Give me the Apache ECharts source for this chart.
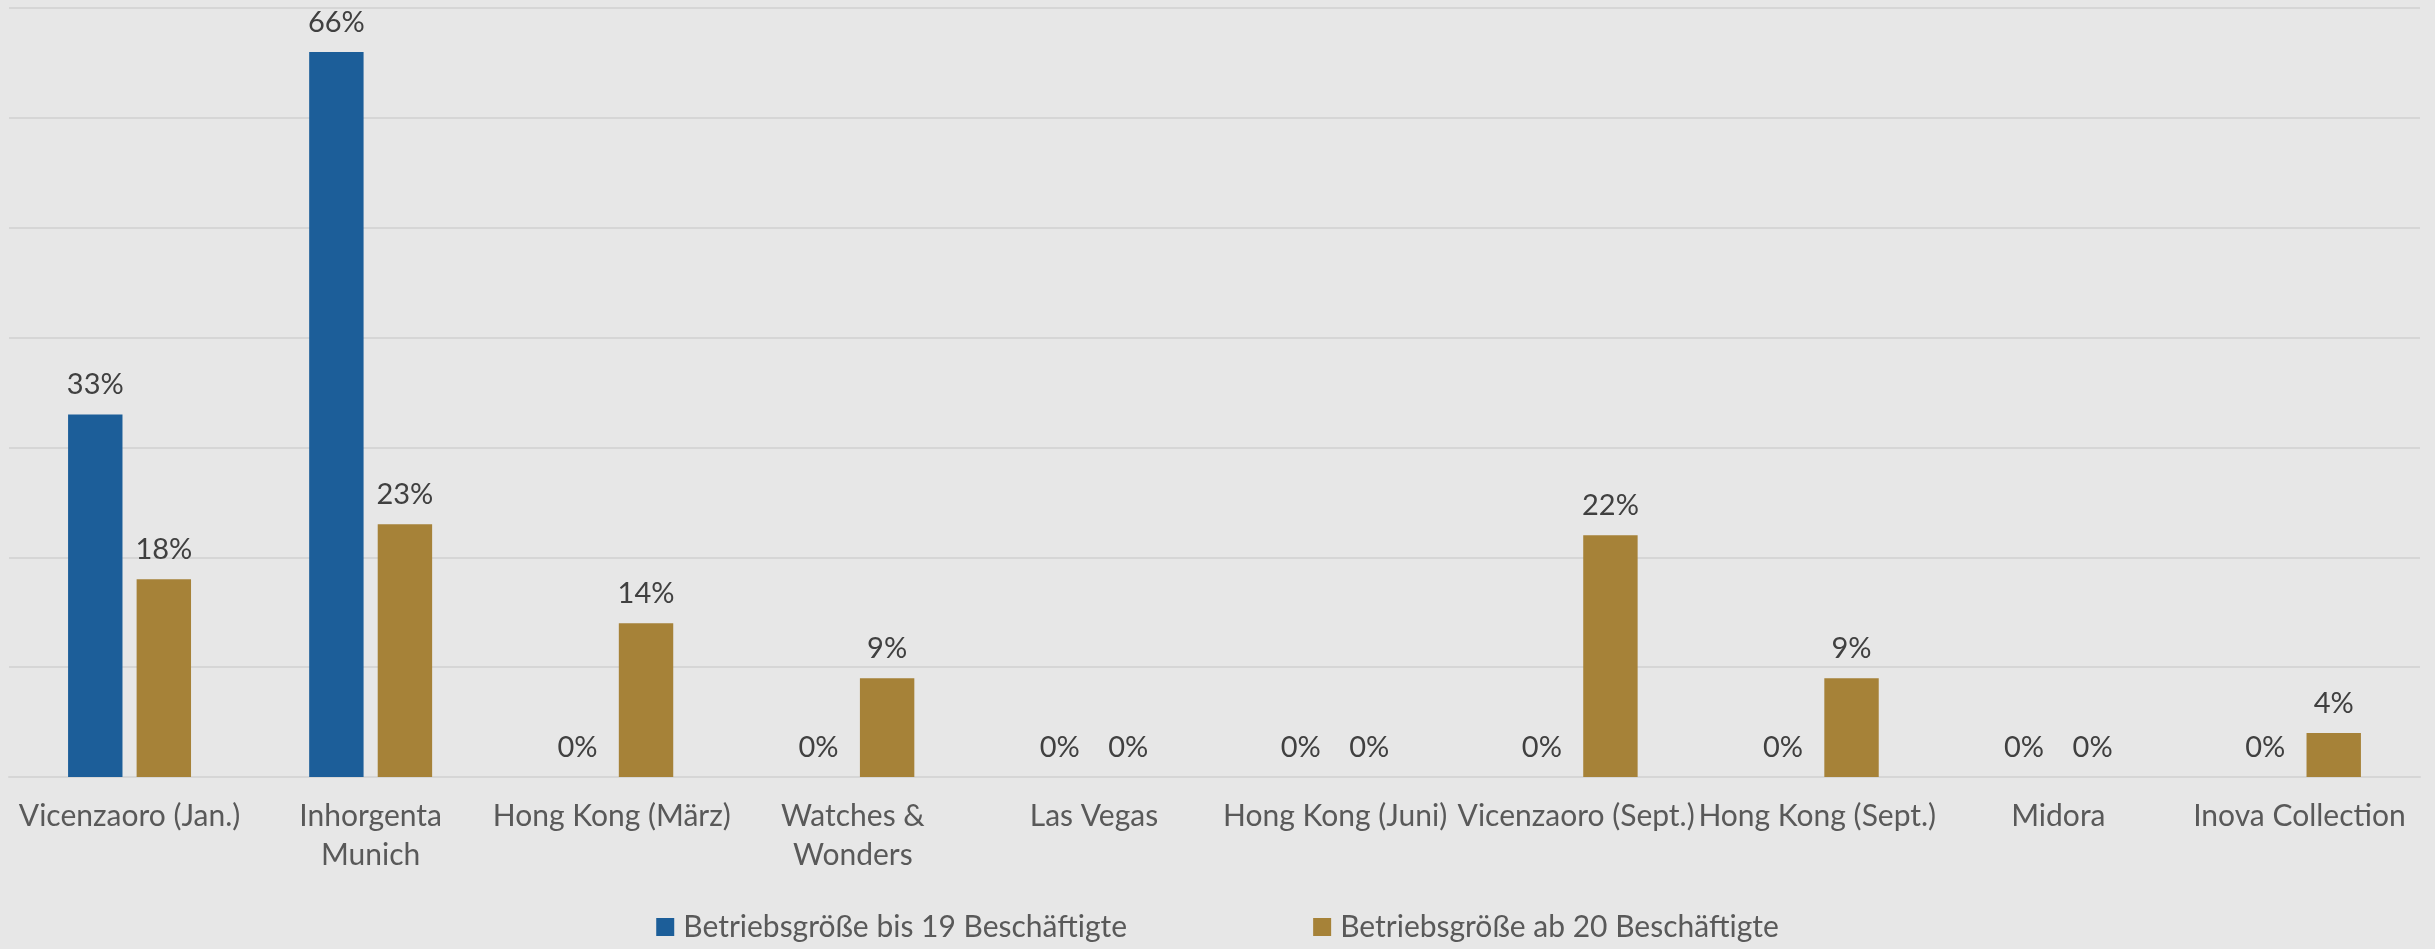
<!DOCTYPE html>
<html>
<head>
<meta charset="utf-8">
<script src="https://cdn.jsdelivr.net/npm/echarts@6/dist/echarts.min.js"></script>
<style>
html,body{margin:0;padding:0;background:#e7e7e7;}
#chart{width:2435px;height:949px;}
</style>
</head>
<body>
<div id="chart"></div>
<script>
const categories = ["Vicenzaoro (Jan.)", "Inhorgenta Munich", "Hong Kong (März)", "Watches & Wonders", "Las Vegas", "Hong Kong (Juni)", "Vicenzaoro (Sept.)", "Hong Kong (Sept.)", "Midora", "Inova Collection"];
const wrapped = ["Inhorgenta Munich", "Watches & Wonders"];
const seriesNames = ["Betriebsgröße bis 19 Beschäftigte", "Betriebsgröße ab 20 Beschäftigte"];
const small = [33, 66, 0, 0, 0, 0, 0, 0, 0, 0];
const large = [18, 23, 14, 9, 0, 0, 22, 9, 0, 4];
const colors = ["#1c5e99", "#a68238"];

const chart = echarts.init(document.getElementById('chart'));
const FONT = 'Lato';
const labelCfg = {
  show: true, position: 'top', distance: 15,
  formatter: p => p.value + '%',
  color: '#404040', fontFamily: FONT, fontSize: 29
};
chart.setOption({
  backgroundColor: '#e7e7e7',
  animation: false,
  grid: { left: 9, right: 15, top: 8, bottom: 172, containLabel: false },
  legend: {
    bottom: 2, left: 'center', itemWidth: 18, itemHeight: 18, itemGap: 186,
    icon: 'rect',
    textStyle: { color: '#595959', fontFamily: FONT, fontSize: 30, padding: [0, 0, 0, 4] },
    data: seriesNames
  },
  xAxis: {
    type: 'category', data: categories,
    axisLine: { lineStyle: { color: '#d6d6d6', width: 2 } },
    axisTick: { show: false },
    axisLabel: {
      interval: 0, margin: 20, color: '#595959', fontFamily: FONT, fontSize: 30, lineHeight: 39,
      formatter: v => wrapped.includes(v) ? v.replace(/ (?=[^ ]*$)/, '\n') : v
    }
  },
  yAxis: {
    type: 'value', min: 0, max: 70, interval: 10,
    axisLabel: { show: false }, axisLine: { show: false }, axisTick: { show: false },
    splitLine: { lineStyle: { color: '#d6d6d6', width: 2 } }
  },
  series: [
    { name: seriesNames[0], type: 'bar', data: small, itemStyle: { color: colors[0] },
      barGap: '26%', barCategoryGap: '49%', label: labelCfg },
    { name: seriesNames[1], type: 'bar', data: large, itemStyle: { color: colors[1] },
      barGap: '26%', barCategoryGap: '49%', label: labelCfg }
  ]
});
</script>
</body>
</html>
